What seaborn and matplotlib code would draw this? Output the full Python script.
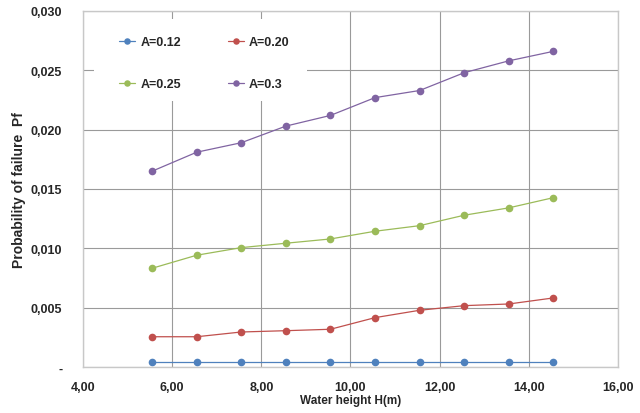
import matplotlib
matplotlib.use("Agg")
import matplotlib.pyplot as plt
import matplotlib.ticker as mticker
from matplotlib.patches import Rectangle
import seaborn as sns
import pandas as pd

heights = [5.55, 6.55, 7.55, 8.55, 9.55, 10.55, 11.55, 12.55, 13.55, 14.55]
series_names = ["A=0.12", "A=0.20", "A=0.25", "A=0.3"]
pf_a012 = [0.00045] * 10
pf_a020 = [0.00255, 0.00255, 0.00295, 0.00306, 0.00318, 0.00416, 0.00478, 0.00517, 0.00531, 0.00582]
pf_a025 = [0.00832, 0.00942, 0.01006, 0.01043, 0.01079, 0.01144, 0.01191, 0.01279, 0.01341, 0.01427]
pf_a030 = [0.0165, 0.0181, 0.0189, 0.0203, 0.0212, 0.0227, 0.0233, 0.0248, 0.0258, 0.0266]
colors = ["#4F81BD", "#C0504D", "#9BBB59", "#8064A2"]

rows = []
for name, vals in zip(series_names, [pf_a012, pf_a020, pf_a025, pf_a030]):
    for h, v in zip(heights, vals):
        rows.append({"H": h, "Pf": v, "series": name})
df = pd.DataFrame(rows)

sns.set_style("white")
plt.rcParams["font.family"] = ["Liberation Sans", "DejaVu Sans"]

fig = plt.figure(figsize=(6.4, 4.14), dpi=100)
ax = fig.add_axes([83 / 640, 1 - 368 / 414, (618 - 83) / 640, (368 - 12) / 414])

sns.lineplot(data=df, x="H", y="Pf", hue="series", hue_order=series_names,
             palette=colors, marker="o", markersize=5.5, markeredgewidth=0,
             linewidth=0.9, ax=ax)

ax.set_xlim(4, 16)
ax.set_ylim(0, 0.030)
ax.set_xticks([4, 6, 8, 10, 12, 14, 16])
ax.set_yticks([0, 0.005, 0.010, 0.015, 0.020, 0.025, 0.030])

def yfmt(v, pos):
    if abs(v) < 1e-12:
        return "-"
    return f"{v:.3f}".replace(".", ",")

def xfmt(v, pos):
    return f"{v:.2f}".replace(".", ",")

ax.yaxis.set_major_formatter(mticker.FuncFormatter(yfmt))
ax.xaxis.set_major_formatter(mticker.FuncFormatter(xfmt))
ax.tick_params(axis="y", length=0, labelsize=9, pad=15)
ax.tick_params(axis="x", length=0, labelsize=9, pad=10)
for lab in ax.get_xticklabels() + ax.get_yticklabels():
    lab.set_fontweight("bold")

ax.grid(True, color="#9a9a9a", linewidth=0.8)
ax.set_axisbelow(True)
for s in ax.spines.values():
    s.set_color("#c8c8c8")
    s.set_linewidth(1.0)

ax.set_xlabel("Water height H(m)", fontsize=8.5, fontweight="bold", labelpad=1)
ax.set_ylabel("Probability of failure  Pf", fontsize=10, fontweight="bold", labelpad=3)

# white legend background box
x0 = (94 - 83) / 535
x1 = (307 - 83) / 535
y1 = (368 - 20) / 356
y0 = (368 - 102) / 356
ax.add_patch(Rectangle((x0, y0), x1 - x0, y1 - y0, transform=ax.transAxes,
                       facecolor="white", edgecolor="none", zorder=1.5))

handles, labels = ax.get_legend_handles_labels()
hmap = dict(zip(labels, handles))
order = ["A=0.12", "A=0.25", "A=0.20", "A=0.3"]
leg = ax.legend([hmap[k] for k in order], order, ncol=2, loc="upper left",
                bbox_to_anchor=((119 - 83) / 535, (368 - 37) / 356),
                frameon=False, fontsize=9, handlelength=1.3, handletextpad=0.4,
                columnspacing=3.75, labelspacing=2.4, borderpad=0, borderaxespad=0,
                markerscale=0.85)
for t in leg.get_texts():
    t.set_fontweight("bold")

fig.savefig("out.png", dpi=100)
